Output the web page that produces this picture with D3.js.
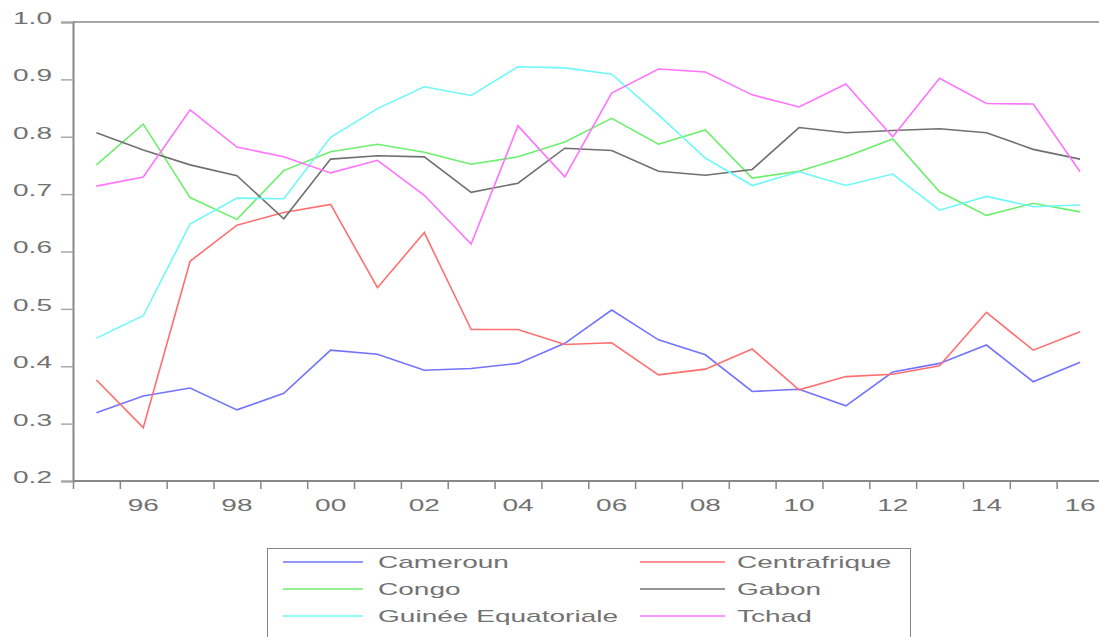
<!DOCTYPE html>
<html>
<head>
<meta charset="utf-8">
<script src="https://cdn.jsdelivr.net/npm/d3@7"></script>
<style>
  body { margin: 0; background: #fff; }
  text { font-family: "Liberation Sans", Arial, sans-serif; fill: #727272; }
</style>
</head>
<body>
<div id="chart"></div>
<script>
// data
const years = d3.range(1995, 2017);
const cameroun = [0.319, 0.348, 0.362, 0.324, 0.353, 0.428, 0.421, 0.393, 0.396, 0.405, 0.440,
                  0.498, 0.446, 0.420, 0.356, 0.360, 0.331, 0.390, 0.405, 0.437, 0.373, 0.407];
const centrafrique = [0.376, 0.293, 0.583, 0.646, 0.668, 0.682, 0.537, 0.633, 0.464, 0.464, 0.438,
                      0.441, 0.385, 0.395, 0.430, 0.359, 0.382, 0.386, 0.401, 0.494, 0.428, 0.460];
const congo = [0.751, 0.822, 0.694, 0.656, 0.741, 0.774, 0.787, 0.773, 0.752, 0.765, 0.791,
               0.832, 0.787, 0.812, 0.728, 0.740, 0.765, 0.796, 0.704, 0.663, 0.684, 0.669];
const gabon = [0.807, 0.777, 0.751, 0.732, 0.657, 0.761, 0.767, 0.765, 0.703, 0.719, 0.780,
               0.776, 0.740, 0.733, 0.743, 0.816, 0.807, 0.811, 0.814, 0.807, 0.778, 0.761];
const guinee = [0.449, 0.488, 0.648, 0.693, 0.692, 0.799, 0.849, 0.887, 0.872, 0.922, 0.920,
                0.909, 0.838, 0.763, 0.715, 0.739, 0.715, 0.735, 0.672, 0.696, 0.678, 0.681];
const tchad = [0.714, 0.730, 0.847, 0.782, 0.765, 0.737, 0.759, 0.698, 0.613, 0.819, 0.730,
               0.876, 0.918, 0.913, 0.873, 0.852, 0.892, 0.800, 0.902, 0.858, 0.857, 0.739];
const yTicks = [0.2, 0.3, 0.4, 0.5, 0.6, 0.7, 0.8, 0.9, 1.0];
const xLabelYears = [1996, 1998, 2000, 2002, 2004, 2006, 2008, 2010, 2012, 2014, 2016];

const series = [
  {name: "Cameroun", values: cameroun, color: "#7373ff"},
  {name: "Centrafrique", values: centrafrique, color: "#ff6f6f"},
  {name: "Congo", values: congo, color: "#6cef6c"},
  {name: "Gabon", values: gabon, color: "#707070"},
  {name: "Guinée Equatoriale", values: guinee, color: "#6ff8f8"},
  {name: "Tchad", values: tchad, color: "#ff73ff"}
];

const W = 1099, H = 637;
const plotLeft = 73, plotTop = 22, plotBottom = 481, plotRight = 1103.5;
const stretch = 1.65; // the text in the picture is drawn wide

const svg = d3.select("#chart").append("svg")
    .attr("width", W).attr("height", H);

const x = d3.scaleLinear().domain([1994.5, 2016.5]).range([plotLeft, plotRight]);
const y = d3.scaleLinear().domain([0.2, 1.0]).range([plotBottom, plotTop]);

// top border
svg.append("line")
    .attr("x1", plotLeft).attr("x2", W).attr("y1", plotTop).attr("y2", plotTop)
    .attr("stroke", "#888").attr("stroke-width", 1.5);

// y axis
const yAxis = svg.append("g")
    .attr("transform", `translate(${plotLeft},0)`)
    .call(d3.axisLeft(y).tickValues(yTicks).tickSize(12).tickFormat(""));
yAxis.select(".domain").attr("stroke", "#888").attr("stroke-width", 2);
yAxis.selectAll(".tick line").attr("stroke", "#aaa").attr("stroke-width", 1.5);

// x axis, ticks on year boundaries
const xAxis = svg.append("g")
    .attr("transform", `translate(0,${plotBottom})`)
    .call(d3.axisBottom(x).tickValues(d3.range(1994.5, 2016, 1)).tickSize(8).tickFormat(""));
xAxis.select(".domain").attr("d", `M${plotLeft},0H${W}`).attr("stroke", "#888").attr("stroke-width", 2);
xAxis.selectAll(".tick line").attr("stroke", "#888").attr("stroke-width", 1.5);

// y labels
svg.append("g").selectAll("text")
  .data(yTicks)
  .join("text")
    .attr("transform", d => `translate(52,${y(d) - 4}) scale(${stretch},1)`)
    .attr("text-anchor", "end")
    .attr("dy", "0.35em")
    .style("font-size", "17px")
    .text(d => d3.format(".1f")(d));

// x labels
svg.append("g").selectAll("text")
  .data(xLabelYears)
  .join("text")
    .attr("transform", d => `translate(${x(d)},505) scale(${stretch},1)`)
    .attr("text-anchor", "middle")
    .attr("dy", "0.35em")
    .style("font-size", "17px")
    .text(d => String(d).slice(2));

// lines
const line = d3.line()
    .x((d, i) => x(years[i]))
    .y(d => y(d));

svg.append("g").selectAll("path")
  .data(series)
  .join("path")
    .attr("fill", "none")
    .attr("stroke", d => d.color)
    .attr("stroke-width", 1.6)
    .attr("d", d => line(d.values));

// legend
const legend = svg.append("g");
legend.append("rect")
    .attr("x", 267.5).attr("y", 548.5)
    .attr("width", 643).attr("height", 110)
    .attr("fill", "none").attr("stroke", "#888").attr("stroke-width", 1);

const items = legend.selectAll("g.item")
  .data(series)
  .join("g")
    .attr("class", "item")
    .attr("transform", (d, i) => `translate(${i % 2 ? 640 : 283},${562 + Math.floor(i / 2) * 27})`);

items.append("line")
    .attr("x1", 0).attr("x2", (d, i) => i % 2 ? 85 : 80)
    .attr("y1", 0).attr("y2", 0)
    .attr("stroke", d => d.color).attr("stroke-width", 1.6);

items.append("text")
    .attr("transform", (d, i) => `translate(${i % 2 ? 97 : 95},0) scale(${stretch},1)`)
    .attr("dy", "0.35em")
    .style("font-size", "17px")
    .text(d => d.name);
</script>
</body>
</html>
